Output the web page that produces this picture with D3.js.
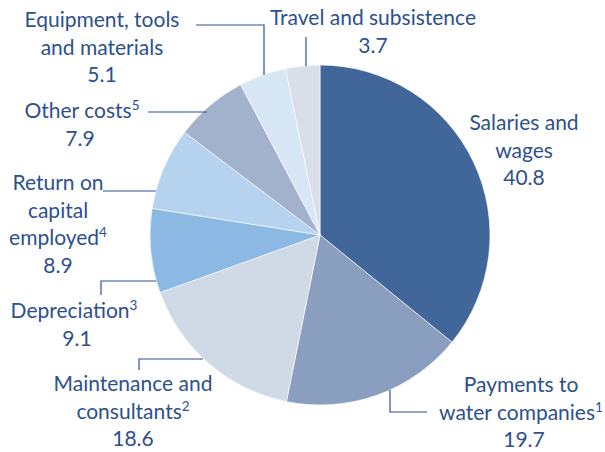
<!DOCTYPE html>
<html>
<head>
<meta charset="utf-8">
<script src="https://cdn.jsdelivr.net/npm/d3@7"></script>
<style>
  html, body { margin: 0; padding: 0; background: #fff; }
  svg text { font-family: Lato, "Open Sans", sans-serif; fill: #2d508e; }
</style>
</head>
<body>
<svg id="chart" width="605" height="452"></svg>
<script>
// Cost breakdown (£ million)
const categories = [
  "Salaries and wages",
  "Payments to water companies",
  "Maintenance and consultants",
  "Depreciation",
  "Return on capital employed",
  "Other costs",
  "Equipment, tools and materials",
  "Travel and subsistence"
];
const values = [40.8, 19.7, 18.6, 9.1, 8.9, 7.9, 5.1, 3.7];
const footnotes = ["", "1", "2", "3", "4", "5", "", ""];
const labelLines = [
  ["Salaries and", "wages"],
  ["Payments to", "water companies"],
  ["Maintenance and", "consultants"],
  ["Depreciation"],
  ["Return on", "capital", "employed"],
  ["Other costs"],
  ["Equipment, tools", "and materials"],
  ["Travel and subsistence"]
];
const colors = ["#416699", "#8a9fbf", "#d0dae7", "#8bb9e3", "#b5d2ee", "#a2b1cc", "#d8e7f6", "#d9dfe8"];

const svg = d3.select("#chart");
const cx = 320, cy = 235, R = 170;
const g = svg.append("g").attr("transform", `translate(${cx},${cy})`);

const pie = d3.pie().sort(null).value(d => d)(values);
const arc = d3.arc().innerRadius(0).outerRadius(R);

g.selectAll("path.slice")
  .data(pie)
  .join("path")
  .attr("class", "slice")
  .attr("d", arc)
  .attr("fill", (d, i) => colors[i])
  .attr("stroke", "#ffffff")
  .attr("stroke-width", 0.6);

// x on the circle's left edge for a given page y
const leftEdge = y => cx - Math.sqrt(R * R - (y - cy) * (y - cy));

// Label placement: centre x, first baseline
const layout = [
  { x: 524, y: 130 },
  { x: 521, y: 392, valueX: 524 },
  { x: 133, y: 391 },
  { x: 74,  y: 318, valueX: 77 },
  { x: 58,  y: 190 },
  { x: 82,  y: 118, valueX: 80 },
  { x: 102, y: 27 },
  { x: 373, y: 25 }
];
const step = 27.5;
const fs = 21;

layout.forEach((L, i) => {
  const lines = labelLines[i];
  const t = svg.append("text")
    .attr("text-anchor", "middle")
    .attr("font-size", fs);
  lines.forEach((ln, j) => {
    t.append("tspan")
      .attr("x", L.x)
      .attr("y", L.y + j * step)
      .text(ln);
    if (j === lines.length - 1 && footnotes[i]) {
      t.append("tspan")
        .attr("font-size", 13.5)
        .attr("dy", -8)
        .text(footnotes[i]);
    }
  });
  svg.append("text")
    .attr("text-anchor", "middle")
    .attr("font-size", fs)
    .attr("x", L.valueX || L.x)
    .attr("y", L.y + lines.length * step)
    .text(values[i].toFixed(1));
});

// Leader lines
const leaders = [
  // Payments to water companies
  [[427, 412], [390, 412], [390, 390]],
  // Maintenance and consultants
  [[139, 370], [139, 359], [203, 359]],
  // Depreciation
  [[101, 295], [101, 281], [leftEdge(281), 281]],
  // Return on capital employed
  [[103, 191], [leftEdge(191), 191]],
  // Other costs
  [[148, 112], [leftEdge(112) + 4, 112]],
  // Equipment, tools and materials
  [[196, 25], [264, 25], [264, 75]],
  // Travel and subsistence
  [[306, 37], [306, 66]]
];
const line = d3.line();
svg.selectAll("path.leader")
  .data(leaders)
  .join("path")
  .attr("class", "leader")
  .attr("d", line)
  .attr("fill", "none")
  .attr("stroke", "#2d508e")
  .attr("stroke-width", 1.2);
</script>
</body>
</html>
